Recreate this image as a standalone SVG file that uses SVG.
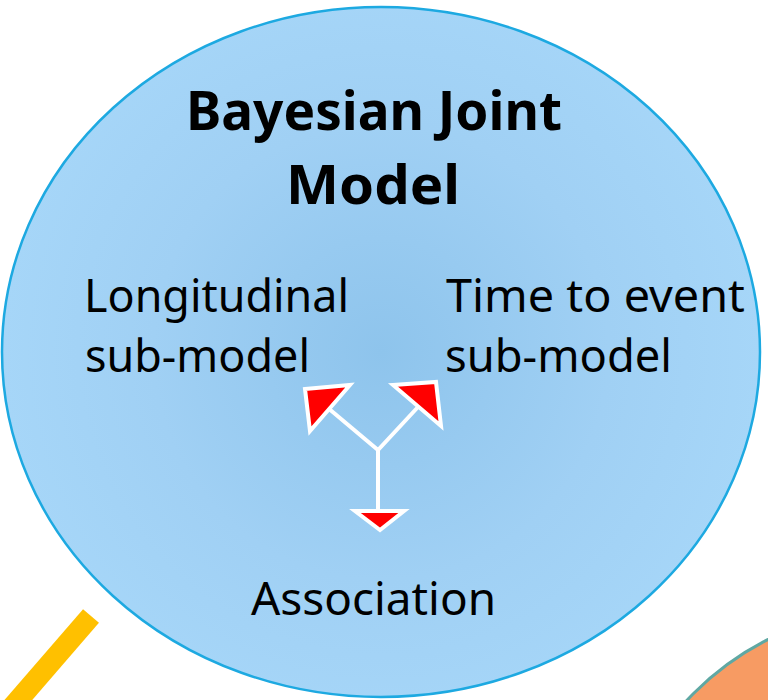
<svg xmlns="http://www.w3.org/2000/svg" width="768" height="700" viewBox="0 0 768 700">
  <defs>
    <radialGradient id="blueFill" cx="381" cy="352" r="380" gradientUnits="userSpaceOnUse">
      <stop offset="0" stop-color="#8EC4EC"/>
      <stop offset="0.6" stop-color="#A0D0F4"/>
      <stop offset="1" stop-color="#A6D6F8"/>
    </radialGradient>
    <style>
      .lbl { font-family: "Noto Sans", "Open Sans", sans-serif; font-size: 46px; fill: #000; }
      .ttl { font-family: "Noto Sans", "Open Sans", sans-serif; font-size: 54px; font-weight: bold; fill: #000; }
      .conn { stroke: #FFFFFF; stroke-width: 4; fill: none; }
      .head { fill: #FF0000; stroke: #FFFFFF; stroke-width: 4; stroke-linejoin: miter; }
    </style>
  </defs>
  <rect width="768" height="700" fill="#FFFFFF"/>
  <g id="yellow-bar">
    <line x1="91" y1="616" x2="-5" y2="727" stroke="#FFC000" stroke-width="21"/>
  </g>
  <g id="orange-circle">
    <circle cx="900" cy="900" r="292" fill="#F79B63" stroke="#5FA8A3" stroke-width="3"/>
  </g>
  <g id="joint-model">
    <ellipse cx="381" cy="352" rx="379" ry="345" fill="url(#blueFill)" stroke="#1DA9E1" stroke-width="2.5"/>
    <text class="ttl" x="186" y="130" textLength="376" lengthAdjust="spacingAndGlyphs">Bayesian Joint</text>
    <text class="ttl" x="286" y="204" textLength="174" lengthAdjust="spacingAndGlyphs">Model</text>
  </g>
  <g id="longitudinal">
    <text class="lbl" x="84" y="312" textLength="265" lengthAdjust="spacingAndGlyphs">Longitudinal</text>
    <text class="lbl" x="85" y="372" textLength="225" lengthAdjust="spacingAndGlyphs">sub-model</text>
  </g>
  <g id="time-to-event">
    <text class="lbl" x="446" y="312" textLength="299" lengthAdjust="spacingAndGlyphs">Time to event</text>
    <text class="lbl" x="445" y="372" textLength="227" lengthAdjust="spacingAndGlyphs">sub-model</text>
  </g>
  <g id="association">
    <text class="lbl" x="251" y="615" textLength="245" lengthAdjust="spacingAndGlyphs">Association</text>
  </g>
  <g id="connectors">
    <polyline class="conn" points="328,408 378,450 418,407"/>
    <line class="conn" x1="378" y1="450" x2="378" y2="512"/>
    <polygon class="head" points="305,389 350,385 310,431"/>
    <polygon class="head" points="393,385 436,382 441,426"/>
    <polygon class="head" points="355,511 404,511 380,530"/>
  </g>
</svg>
